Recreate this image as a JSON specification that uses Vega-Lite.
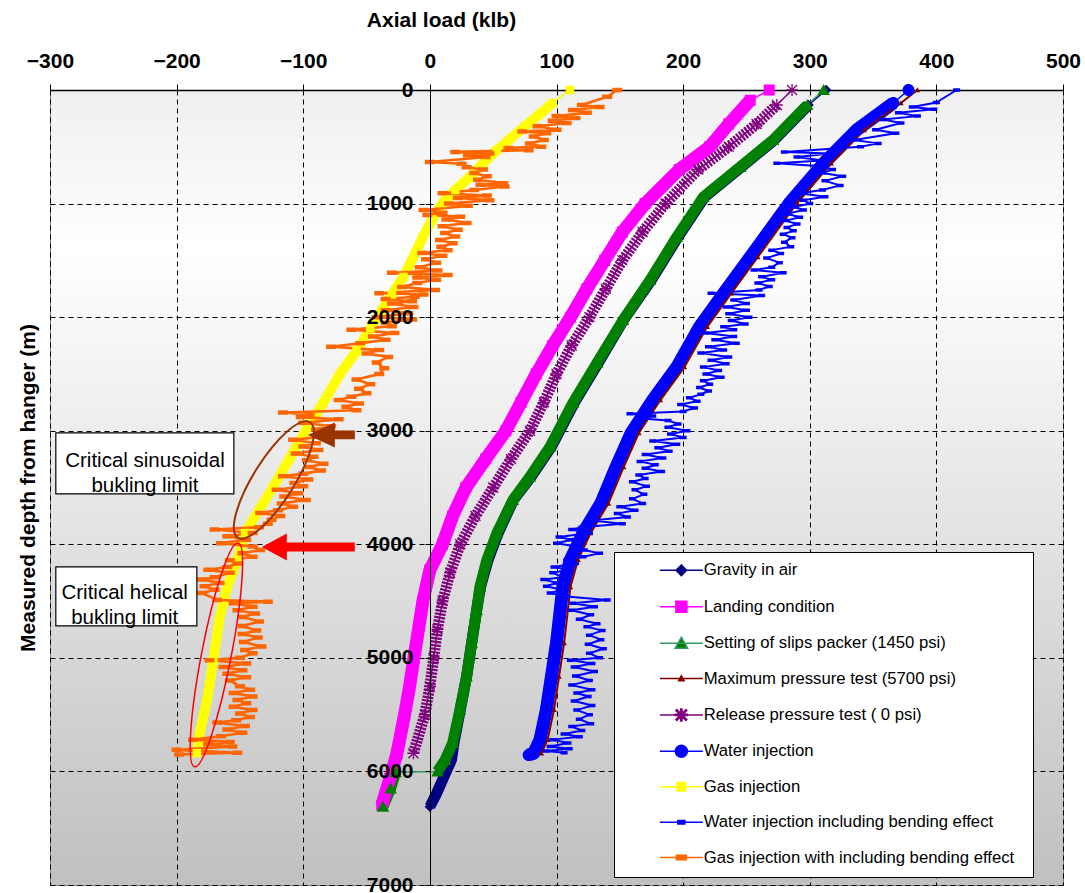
{
  "$schema": "https://vega.github.io/schema/vega-lite/v6.json",
  "width": 1013,
  "height": 795,
  "autosize": {"type": "none"},
  "padding": {"left": 50, "top": 90, "right": 22, "bottom": 8},
  "background": "white",
  "config": {
    "font": "Liberation Sans",
    "view": {
      "stroke": "#808080",
      "strokeWidth": 1,
      "fill": {"gradient": "linear", "x1": 0, "y1": 0, "x2": 0, "y2": 1,
        "stops": [{"offset": 0, "color": "#efefef"}, {"offset": 0.2, "color": "#ffffff"}, {"offset": 1, "color": "#c0c0c0"}]}
    }
  },
  "resolve": {"axis": {"y": "independent"}},
  "datasets": {
    "curves": [
      {"series": "Gravity in air",
       "d": [0,132,440,678,942,1294,1672,2025,2403,2755,3140,3405,3610,3900,4137,4375,4577,4870,5165,5458,5750,5900,6050,6200,6310],
       "x": [313,299,272,246,217,196,175,153,133,114,96,80,66,54,46,40,37,33,29,24,19,17,11,5,0]},
      {"series": "Landing condition",
       "d": [0,90,300,500,700,1000,1250,1500,1750,2000,2250,2500,2750,3000,3250,3500,3750,4000,4225,4500,4750,5000,5250,5500,5840,6000,6300],
       "x": [268,253,236,221,197,170,152,138,124,111,97,84,72,60,44,28.5,18,10,0,-5.5,-9,-12.6,-16,-20,-26,-30,-38]},
      {"series": "Setting of slips packer (1450 psi)",
       "d": [0,132,440,678,942,1294,1672,2025,2403,2755,3140,3405,3610,3900,4137,4375,4577,4870,5165,5458,5750,5900,6000,6004,6008,6150,6310],
       "x": [311,298,271,245,216,195,174,152.6,132,113,95,79,65.6,53,45,39.5,37,33,29,23.7,18,12,6,null,-27,-31,-37]},
      {"series": "Maximum pressure test (5700 psi)",
       "d": [0,114,352,646,995,1470,1790,2085,2440,2730,3020,3320,3640,3900,4137,4375,4577,4870,5165,5458,5720,5840],
       "x": [385,372,343,317,290,259,238,219,201,182,165,153,141,127,117,111,109,106,102,98,93,88]},
      {"series": "Release pressure test ( 0 psi)",
       "d": [0,132,300,500,700,1000,1250,1500,1750,2000,2250,2500,2750,3000,3250,3500,3750,4000,4250,4500,4750,5000,5250,5500,5840],
       "x": [286,274,258,236,212,186,168,152,139,126,112,100,90,79,64,50,36,24,16,10,6,3,0,-4,-13]},
      {"series": "Water injection",
       "d": [0,114,352,646,995,1470,1790,2085,2440,2730,3020,3320,3640,3900,4137,4375,4577,4870,5165,5458,5720,5840,5855],
       "x": [378,366,337,311,284,253,232,213,195,176,159,147,135,121,111,105,103,100,96,92,87,82,78]},
      {"series": "Gas injection",
       "d": [0,114,220,320,425,528,645,766,880,995,1140,1294,1470,1646,1800,1940,2100,2300,2500,2750,3000,3250,3500,3700,3900,4137,4375,4639,5018,5370,5660,5840],
       "x": [110.6,97,86,75,64,53,42,31.6,20,10,2,-5.5,-13,-21,-30,-38,-47,-58,-71,-84,-98,-111,-124,-135,-146,-152,-160,-166,-171,-176,-181.7,-184]},
      {"series": "Water injection including bending effect",
       "d": [0,110,150,170,200,230,260,290,350,380,440,470,500,545,560,590,620,645,670,700,730,760,800,840,880,910,940,970,1000,1030,1056,1090,1120,1150,1180,1210,1240,1270,1300,1340,1380,1410,1440,1480,1520,1560,1585,1610,1645,1670,1700,1730,1760,1790,1810,1850,1880,1910,1940,1970,2000,2030,2060,2085,2110,2140,2170,2200,2230,2260,2290,2315,2350,2380,2410,2440,2470,2500,2530,2560,2590,2620,2650,2680,2710,2740,2770,2800,2830,2850,2870,2890,2910,2940,2970,3000,3030,3060,3090,3120,3150,3180,3210,3240,3270,3300,3330,3360,3390,3420,3450,3490,3520,3560,3600,3640,3670,3700,3730,3760,3790,3820,3850,3870,3900,3935,3960,3990,4020,4050,4080,4110,4140,4170,4200,4225,4250,4290,4310,4340,4370,4400,4430,4460,4490,4520,4550,4580,4620,4660,4700,4725,4760,4800,4840,4880,4920,4960,5000,5020,5050,5080,5120,5160,5200,5240,5280,5310,5340,5380,5420,5460,5500,5540,5580,5605,5640,5670,5695,5720,5750,5780,5800,5820,5835],
       "x": [416,400,381,398,370,385,358,372,352,368,335,354,340,280,316,290,310,274,306,318,310,326,312,324,310,292,312,295,300,288,295,282,292,281,290,282,287,279,286,280,285,270,277,266,276,270,256,279,262,270,259,268,260,222,262,240,250,234,250,236,252,238,249,232,240,218,240,225,242,220,232,214,236,222,234,216,228,218,230,216,221,213,220,214,205,211,198,209,200,158,176,165,188,196,188,203,190,200,176,195,180,189,170,184,166,178,170,183,165,170,160,171,162,169,160,168,150,162,148,156,128,152,120,112,126,102,112,100,116,122,134,121,108,115,98,110,97,105,90,100,92,104,95,108,140,113,130,112,127,118,132,124,136,126,135,125,137,126,134,111,128,114,130,115,126,112,128,116,125,114,128,116,126,118,127,112,120,106,118,97,109,95,110,92,106]},
      {"series": "Gas injection with including bending effect",
       "d": [0,60,132,150,176,200,230,246,270,290,320,350,365,380,410,440,470,500,510,530,545,560,575,590,634,650,680,700,730,760,790,820,835,850,880,910,930,950,970,1000,1020,1056,1080,1100,1115,1140,1170,1200,1230,1260,1290,1320,1350,1380,1410,1435,1460,1490,1520,1560,1590,1610,1630,1650,1670,1700,1735,1760,1790,1800,1820,1840,1860,1880,1910,1940,1965,2000,2020,2050,2080,2110,2140,2170,2200,2230,2260,2290,2320,2350,2400,2450,2500,2550,2590,2630,2670,2700,2730,2760,2790,2820,2840,2860,2880,2900,2930,2960,2990,3020,3050,3080,3110,3140,3170,3200,3230,3260,3290,3320,3350,3380,3400,3430,3460,3490,3520,3550,3580,3610,3640,3670,3700,3725,3750,3785,3820,3850,3870,3900,3930,3960,3990,4020,4050,4080,4110,4140,4170,4200,4225,4250,4290,4310,4340,4370,4400,4430,4490,4505,4520,4550,4580,4610,4640,4680,4720,4760,4790,4820,4860,4900,4930,4960,5000,5020,5050,5080,5110,5140,5170,5200,5250,5280,5310,5340,5370,5400,5430,5460,5490,5520,5550,5570,5600,5630,5660,5690,5720,5740,5760,5780,5810,5835,5850],
       "x": [148,140,120,134,113,124,100,115,97,108,85,100,73,92,82,90,79,88,62,78,20,47,30,44,0,25,29,42,35,45,38,58,40,59,35,10,45,22,47,15,30,-5,10,-2,24,13,29,10,22,12,20,8,18,9,14,-6,10,-3,5,-8,6,-30,14,-10,5,-10,-22,4,-40,-5,-12,-35,-14,-30,-13,-35,-17,-42,-14,-35,-30,-62,-28,-45,-35,-55,-78,-40,-50,-33,-42,-36,-40,-58,-47,-56,-50,-62,-72,-56,-66,-58,-116,-95,-102,-72,-100,-78,-90,-70,-82,-108,-90,-100,-88,-106,-92,-97,-84,-95,-86,-100,-116,-96,-107,-100,-121,-104,-115,-98,-117,-108,-120,-134,-118,-125,-128,-135,-170,-140,-160,-145,-165,-140,-134,-148,-140,-158,-152,-160,-175,-158,-170,-180,-166,-178,-170,-180,-168,-128,-155,-140,-152,-138,-148,-135,-148,-137,-148,-136,-147,-133,-146,-140,-150,-174,-145,-163,-148,-160,-145,-158,-150,-142,-155,-140,-152,-145,-155,-140,-150,-142,-153,-168,-146,-160,-148,-165,-187,-158,-175,-156,-200,-152,-198]}
    ]
  },
  "data": {"name": "curves"},
  "transform": [{"flatten": ["d", "x"]}],
  "layer": [
    {
      "transform": [{"filter": "indexof(['Gravity in air','Landing condition','Setting of slips packer (1450 psi)','Release pressure test ( 0 psi)','Water injection','Gas injection'], datum.series) >= 0 && isValid(datum.x)"}],
      "mark": {"type": "line", "strokeWidth": 1.5, "strokeJoin": "round"},
      "encoding": {
        "x": {"field": "x", "type": "quantitative", "scale": {"domain": [-300, 500], "nice": false, "zero": false},
          "axis": {"orient": "top", "title": "Axial load (klb)", "values": [-300,-200,-100,0,100,200,300,400,500],
            "labelFontSize": 21, "labelFontWeight": "bold", "labelColor": "#000000", "labelPadding": 13, "labelFlush": false, "labelOverlap": false,
            "tickSize": 6, "tickColor": "#000000", "domainColor": "#000000", "domainWidth": 1.5,
            "grid": true, "gridColor": "#000000", "gridDash": [5, 4], "gridWidth": 1, "gridOpacity": 1,
            "titleFontSize": 21, "titleFontWeight": "bold", "titleColor": "#000000", "titleX": 391, "titleY": -70, "titleBaseline": "middle", "titleAlign": "center", "zindex": 0}},
        "y": {"field": "d", "type": "quantitative", "scale": {"domain": [0, 7000], "reverse": true, "nice": false, "zero": false},
          "axis": {"orient": "left", "title": null, "values": [0,1000,2000,3000,4000,5000,6000,7000], "labels": false, "ticks": false, "domain": false,
            "grid": true, "gridColor": "#000000", "gridDash": [5, 4], "gridWidth": 1, "gridOpacity": 1, "zindex": 0}},
        "stroke": {"field": "series", "type": "nominal",
          "scale": {"domain": ["Gravity in air","Landing condition","Setting of slips packer (1450 psi)","Maximum pressure test (5700 psi)","Release pressure test ( 0 psi)","Water injection","Gas injection","Water injection including bending effect","Gas injection with including bending effect"],
                    "range": ["#000080","#FF00FF","#339966","#800000","#800080","#0000FF","#FFFF00","#0000FF","#FF6600"]}},
        "order": {"field": "d", "type": "quantitative"}
      }
    },
    {
      "transform": [{"filter": "datum.series == 'Gravity in air'"}],
      "mark": {"type": "point", "filled": true, "size": 100, "opacity": 1},
      "encoding": {
        "x": {"field": "x", "type": "quantitative"},
        "y": {"field": "d", "type": "quantitative", "axis": null},
        "fill": {"field": "series", "type": "nominal"},
        "stroke": {"field": "series", "type": "nominal"},
        "shape": {"field": "series", "type": "nominal"},
        "strokeWidth": {"value": 0}
      }
    },
    {
      "transform": [{"filter": "indexof(['Gravity in air','Setting of slips packer (1450 psi)'], datum.series) >= 0 && datum.d > 0"}],
      "mark": {"type": "line", "strokeWidth": 11, "strokeJoin": "round", "strokeCap": "butt", "invalid": "break-paths-filter-domains"},
      "encoding": {
        "x": {"field": "x", "type": "quantitative"},
        "y": {"field": "d", "type": "quantitative", "axis": null},
        "color": {"field": "series", "type": "nominal", "legend": null,
          "scale": {"domain": ["Gravity in air","Landing condition","Setting of slips packer (1450 psi)","Maximum pressure test (5700 psi)","Release pressure test ( 0 psi)","Water injection","Gas injection","Water injection including bending effect","Gas injection with including bending effect"],
                    "range": ["#000080","#FF00FF","#008000","#800000","#800080","#0000FF","#FFFF00","#0000FF","#FF6600"]}},
        "order": {"field": "d", "type": "quantitative"}
      }
    },
    {
      "transform": [{"filter": "datum.series == 'Release pressure test ( 0 psi)' && datum.d > 0"}],
      "mark": {"type": "line", "strokeWidth": 11, "strokeJoin": "round", "strokeCap": "butt", "strokeDash": [2.2, 1.3]},
      "encoding": {
        "x": {"field": "x", "type": "quantitative"},
        "y": {"field": "d", "type": "quantitative", "axis": null},
        "color": {"field": "series", "type": "nominal", "legend": null},
        "order": {"field": "d", "type": "quantitative"}
      }
    },
    {
      "transform": [{"filter": "datum.series == 'Gas injection' && datum.d > 0"}],
      "mark": {"type": "line", "strokeWidth": 10, "strokeJoin": "round", "strokeCap": "butt"},
      "encoding": {
        "x": {"field": "x", "type": "quantitative"},
        "y": {"field": "d", "type": "quantitative", "axis": null},
        "color": {"field": "series", "type": "nominal", "legend": null},
        "order": {"field": "d", "type": "quantitative"}
      }
    },
    {
      "transform": [{"filter": "indexof(['Landing condition','Water injection'], datum.series) >= 0 && datum.d > 0"}],
      "mark": {"type": "line", "strokeWidth": 13, "strokeJoin": "round", "strokeCap": "butt"},
      "encoding": {
        "x": {"field": "x", "type": "quantitative"},
        "y": {"field": "d", "type": "quantitative", "axis": null},
        "color": {"field": "series", "type": "nominal", "legend": null},
        "order": {"field": "d", "type": "quantitative"}
      }
    },
    {
      "transform": [{"filter": "indexof(['Maximum pressure test (5700 psi)','Water injection including bending effect'], datum.series) >= 0"}],
      "mark": {"type": "line", "strokeWidth": 2, "strokeJoin": "round"},
      "encoding": {
        "x": {"field": "x", "type": "quantitative"},
        "y": {"field": "d", "type": "quantitative", "axis": null},
        "stroke": {"field": "series", "type": "nominal"},
        "order": {"field": "d", "type": "quantitative"}
      }
    },
    {
      "transform": [{"filter": "datum.series == 'Gas injection with including bending effect'"}],
      "mark": {"type": "line", "strokeWidth": 2.6, "strokeJoin": "round"},
      "encoding": {
        "x": {"field": "x", "type": "quantitative"},
        "y": {"field": "d", "type": "quantitative", "axis": null},
        "stroke": {"field": "series", "type": "nominal"},
        "order": {"field": "d", "type": "quantitative"}
      }
    },
    {
      "transform": [{"filter": "datum.series != 'Gravity in air'"}],
      "mark": {"type": "point", "filled": true, "size": 100, "opacity": 1},
      "encoding": {
        "x": {"field": "x", "type": "quantitative"},
        "y": {"field": "d", "type": "quantitative",
          "axis": {"orient": "left", "title": "Measured depth from hanger (m)", "values": [0,1000,2000,3000,4000,5000,6000,7000], "format": "d", "offset": -380,
            "labelFontSize": 21, "labelFontWeight": "bold", "labelColor": "#000000", "labelPadding": 12, "labelFlush": false, "labelOverlap": false,
            "tickSize": 5, "tickColor": "#000000", "domainColor": "#000000", "domainWidth": 1, "grid": false,
            "titleFontSize": 21, "titleFontWeight": "bold", "titleColor": "#000000", "titleX": -402, "titleY": 397.5, "titleAngle": -90, "titleBaseline": "middle", "titleAlign": "center", "zindex": 1}},
        "fill": {"field": "series", "type": "nominal",
          "scale": {"domain": ["Gravity in air","Landing condition","Setting of slips packer (1450 psi)","Maximum pressure test (5700 psi)","Release pressure test ( 0 psi)","Water injection","Gas injection","Water injection including bending effect","Gas injection with including bending effect"],
                    "range": ["#000080","#FF00FF","#008000","#800000","#800080","#0000FF","#FFFF00","#0000FF","#FF6600"]},
          "legend": {"orient": "none", "legendX": 564, "legendY": 462, "title": "\u00a0\u00a0", "titleOrient": "right", "titlePadding": 9, "titleFontSize": 16.7, "direction": "vertical", "fillColor": "#ffffff", "strokeColor": "#000000", "padding": 10,
            "labelFontSize": 16.7, "labelColor": "#000000", "labelLimit": 600, "rowPadding": 17.4, "symbolOffset": 49, "labelOffset": 14, "symbolSize": 100, "symbolStrokeWidth": 1.5}},
        "stroke": {"field": "series", "type": "nominal",
          "legend": {"orient": "none", "legendX": 564, "legendY": 462, "title": "\u00a0\u00a0", "titleOrient": "right", "titlePadding": 9, "titleFontSize": 16.7, "direction": "vertical", "fillColor": "#ffffff", "strokeColor": "#000000", "padding": 10,
            "labelFontSize": 16.7, "labelColor": "#000000", "labelLimit": 600, "rowPadding": 17.4, "symbolOffset": 49, "labelOffset": 14, "symbolSize": 100, "symbolStrokeWidth": 1.5}},
        "shape": {"field": "series", "type": "nominal",
          "scale": {"domain": ["Gravity in air","Landing condition","Setting of slips packer (1450 psi)","Maximum pressure test (5700 psi)","Release pressure test ( 0 psi)","Water injection","Gas injection","Water injection including bending effect","Gas injection with including bending effect"],
                    "range": [
                      "M-4.3,0H4.3M0,-1.05L1.05,0L0,1.05L-1.05,0Z",
                      "M-4.3,0H4.3M-1.1,-1.1H1.1V1.1H-1.1Z",
                      "M-4.3,0H4.3M0,-1.2L1.25,1L-1.25,1Z",
                      "M-4.3,0H4.3M0,-0.55L0.55,0.45L-0.55,0.45Z",
                      "M-4.3,0H4.3M-0.13,-1.2H0.13V1.2H-0.13ZM-0.908,-1.092L1.092,0.908L0.908,1.092L-1.092,-0.908ZM1.092,-0.908L-0.908,1.092L-1.092,0.908L0.908,-1.092ZM-1.2,-0.13H1.2V0.13H-1.2Z",
                      "M-4.3,0H4.3M-1.2,0A1.2,1.2 0 1,1 1.2,0A1.2,1.2 0 1,1 -1.2,0Z",
                      "M-4.3,0H4.3M-0.85,-0.85H0.85V0.85H-0.85Z",
                      "M-4.3,0H4.3M-0.7,-0.35H0.7V0.35H-0.7Z",
                      "M-4.3,0H4.3M-1,-0.45H1V0.45H-1Z"]},
          "legend": {"orient": "none", "legendX": 564, "legendY": 462, "title": "\u00a0\u00a0", "titleOrient": "right", "titlePadding": 9, "titleFontSize": 16.7, "direction": "vertical", "fillColor": "#ffffff", "strokeColor": "#000000", "padding": 10,
            "labelFontSize": 16.7, "labelColor": "#000000", "labelLimit": 600, "rowPadding": 17.4, "symbolOffset": 49, "labelOffset": 14, "symbolSize": 100, "symbolStrokeWidth": 1.5}},
        "strokeWidth": {"value": 0}
      }
    },
    {
      "data": {"values": [{"x1": -295.4, "x2": -154.8, "y1": 3019, "y2": 3556}, {"x1": -295.4, "x2": -184, "y1": 4199, "y2": 4718}]},
      "mark": {"type": "rect", "fill": "#ffffff", "stroke": "#000000", "strokeWidth": 1.2},
      "encoding": {
        "x": {"field": "x1", "type": "quantitative"},
        "x2": {"field": "x2"},
        "y": {"field": "y1", "type": "quantitative", "axis": null},
        "y2": {"field": "y2"}
      }
    },
    {
      "data": {"values": [{"x": -225, "y": 3270, "t": "Critical sinusoidal\nbukling limit"}, {"x": -241, "y": 4428, "t": "Critical helical\nbukling limit"}]},
      "mark": {"type": "text", "lineBreak": "\n", "fontSize": 20.5, "lineHeight": 25, "align": "center", "baseline": "middle", "color": "#000000"},
      "encoding": {
        "x": {"field": "x", "type": "quantitative"},
        "y": {"field": "y", "type": "quantitative", "axis": null},
        "text": {"field": "t", "type": "nominal"}
      }
    },
    {
      "data": {"values": [{"x": -123.2, "y": 3433}]},
      "mark": {"type": "point", "shape": "M-1,0A1,0.3 0 1,1 1,0A1,0.3 0 1,1 -1,0Z", "size": 18496, "angle": 302, "filled": false, "stroke": "#993300", "strokeWidth": 2, "opacity": 1},
      "encoding": {
        "x": {"field": "x", "type": "quantitative"},
        "y": {"field": "y", "type": "quantitative", "axis": null}
      }
    },
    {
      "data": {"values": [{"x": -168.6, "y": 4974}]},
      "mark": {"type": "point", "shape": "M-1,0A1,0.13 0 1,1 1,0A1,0.13 0 1,1 -1,0Z", "size": 51984, "angle": 281, "filled": false, "stroke": "#FF0000", "strokeWidth": 1.5, "opacity": 1},
      "encoding": {
        "x": {"field": "x", "type": "quantitative"},
        "y": {"field": "y", "type": "quantitative", "axis": null}
      }
    },
    {
      "data": {"values": [{"x": -77.8, "y": 3037}]},
      "mark": {"type": "point", "shape": "M-0.47,0L0.07,-0.25L0.07,-0.086L0.47,-0.086L0.47,0.086L0.07,0.086L0.07,0.25Z", "size": 10000, "filled": true, "fill": "#993300", "strokeWidth": 0, "opacity": 1},
      "encoding": {
        "x": {"field": "x", "type": "quantitative"},
        "y": {"field": "y", "type": "quantitative", "axis": null}
      }
    },
    {
      "data": {"values": [{"x": -96, "y": 4023}]},
      "mark": {"type": "point", "shape": "M-0.93,0L-0.43,-0.27L-0.43,-0.09L0.93,-0.09L0.93,0.09L-0.43,0.09L-0.43,0.27Z", "size": 10000, "filled": true, "fill": "#FF0000", "strokeWidth": 0, "opacity": 1},
      "encoding": {
        "x": {"field": "x", "type": "quantitative"},
        "y": {"field": "y", "type": "quantitative", "axis": null}
      }
    }
  ]
}
